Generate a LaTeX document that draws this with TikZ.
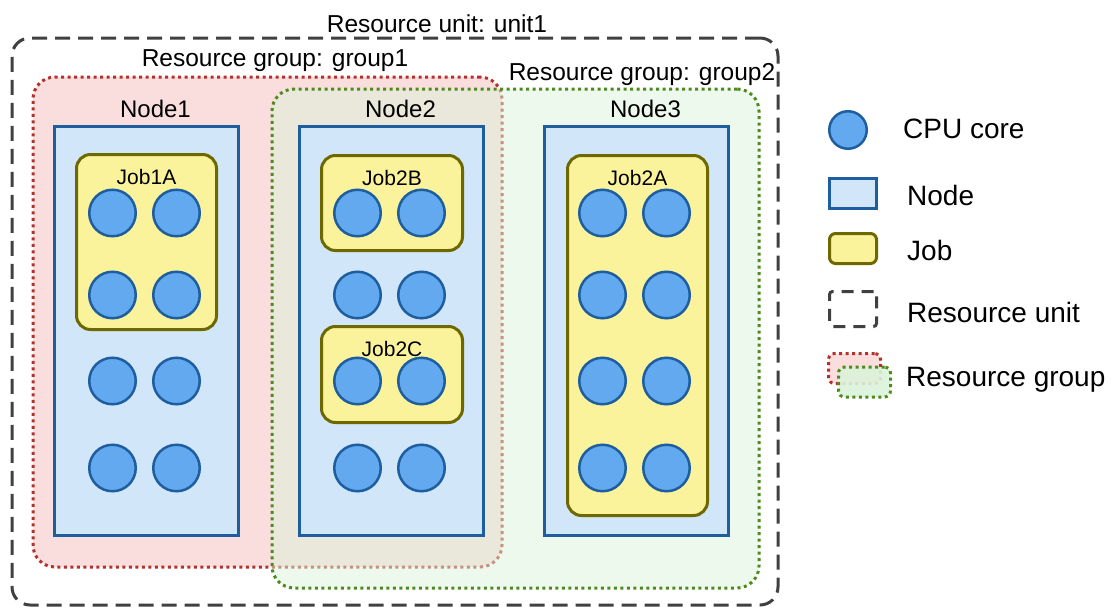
\documentclass[tikz,border=0pt]{standalone}
\usepackage{fontspec}
\setmainfont{Liberation Sans}
\usetikzlibrary{positioning}

\definecolor{unitgray}{HTML}{404040}
\definecolor{grpAline}{HTML}{B3302B}
\definecolor{grpAfill}{HTML}{FADEDE}
\definecolor{grpBline}{HTML}{4E8A1E}
\definecolor{grpBfill}{HTML}{DCF3DA}
\definecolor{nodeline}{HTML}{1E5E9E}
\definecolor{nodefill}{HTML}{D2E6FA}
\definecolor{jobline}{HTML}{6E6800}
\definecolor{jobfill}{HTML}{FBF39C}
\definecolor{corefill}{HTML}{62A9F0}

\tikzset{
    box/.style={rectangle, inner sep=0pt, outer sep=0pt},
    resunit/.style={box, draw=unitgray, line width=3pt, dash pattern=on 15pt off 8pt, rounded corners=18pt},
    rgroupA/.style={box, draw=grpAline, fill=grpAfill, line width=3pt, dash pattern=on 3pt off 3.5pt, rounded corners=22pt},
    rgroupB/.style={box, draw=grpBline, fill=grpBfill, fill opacity=.5, line width=3pt, dash pattern=on 3pt off 3.5pt, rounded corners=22pt},
    machine/.style={box, draw=nodeline, fill=nodefill, line width=3pt},
    job/.style={box, draw=jobline, fill=jobfill, line width=3pt, rounded corners=14pt},
    core/.style={circle, draw=nodeline, fill=corefill, line width=2.5pt, minimum size=46.5pt, inner sep=0pt},
    title/.style={inner sep=0pt, font=\fontsize{24.5}{28}\selectfont},
    mlabel/.style={inner sep=0pt, font=\fontsize{24}{28}\selectfont},
    jlabel/.style={inner sep=0pt, font=\fontsize{21}{24}\selectfont},
    legtext/.style={inner sep=0pt, anchor=base west, font=\fontsize{28}{32}\selectfont}
}

\begin{document}
\begin{tikzpicture}[x=1pt, y=-1pt]

    \useasboundingbox (0,0) rectangle (1112,608);

    % Define containers
    \node[resunit, minimum width=766pt, minimum height=567pt] (unit) at (395,321.5) {};
    \node[rgroupA, minimum width=469pt, minimum height=490pt] (g1) at (267.5,322) {};
    \node[rgroupB, minimum width=487pt, minimum height=499pt] (g2) at (515.5,338.5) {};

    \node[title, above=5pt of unit.north, xshift=42pt]  (tunit) {Resource unit: unit1};
    \node[title, above=5pt of g1.north, xshift=7.5pt]   (tg1) {Resource group: group1};
    \node[title, above=3pt of g2.north, xshift=126.5pt] (tg2) {Resource group: group2};

    % Define machines
    \node[machine, minimum width=184pt, minimum height=409pt] (n1) at (146.5,331) {};
    \node[machine, minimum width=184pt, minimum height=409pt] (n2) at (391.5,331) {};
    \node[machine, minimum width=184pt, minimum height=409pt] (n3) at (636.5,331) {};

    \node[mlabel, above=9pt of n1.north, xshift=9pt] (ln1) {Node1};
    \node[mlabel, above=9pt of n2.north, xshift=9pt] (ln2) {Node2};
    \node[mlabel, above=9pt of n3.north, xshift=9pt] (ln3) {Node3};

    % Define jobs
    \node[job, minimum width=140pt, minimum height=175pt] (j1a) at (146.5,242) {};
    \node[job, minimum width=141pt, minimum height=95pt]  (j2b) at (392,203) {};
    \node[job, minimum width=141pt, minimum height=96pt]  (j2c) at (392,374.5) {};
    \node[job, minimum width=140pt, minimum height=360pt] (j2a) at (637.5,335.5) {};

    \node[jlabel, below=15pt of j1a.north] (lj1a) {Job1A};
    \node[jlabel, below=15pt of j2b.north] (lj2b) {Job2B};
    \node[jlabel, below=15pt of j2c.north] (lj2c) {Job2C};
    \node[jlabel, below=15pt of j2a.north] (lj2a) {Job2A};

    % CPU cores
    \foreach \nx/\nn in {146.5/1, 391.5/2, 636.5/3}
        \foreach \ry [count=\ri] in {213,295,381,468} {
            \node[core] (c\nn-\ri-a) at (\nx-34,\ry) {};
            \node[core] (c\nn-\ri-b) at (\nx+30,\ry) {};
        }

    % Legend
    \node[core, minimum size=37.5pt]                          (lgcore) at (848,130) {};
    \node[machine, minimum width=47pt, minimum height=30pt]   (lgnode) at (853,193.5) {};
    \node[job, minimum width=47pt, minimum height=30pt, rounded corners=6pt] (lgjob) at (853,248.5) {};
    \node[resunit, minimum width=47pt, minimum height=35pt, rounded corners=3pt, dash pattern=on 12pt off 8pt] (lgunit) at (853,309) {};
    \node[rgroupA, minimum width=52pt, minimum height=30pt, rounded corners=6pt] (lggA) at (854.5,368.5) {};
    \node[rgroupB, minimum width=52pt, minimum height=30pt, rounded corners=6pt, fill opacity=.9] (lggB) at (864.5,382) {};

    \node[legtext] (tcore) at (903,138) {CPU core};
    \node[legtext] (tnode) at (907,205) {Node};
    \node[legtext] (tjob)  at (907,260) {Job};
    \node[legtext] (tunitl) at (907,322) {Resource unit};
    \node[legtext] (tgroup) at (906,386) {Resource group};

\end{tikzpicture}
\end{document}
